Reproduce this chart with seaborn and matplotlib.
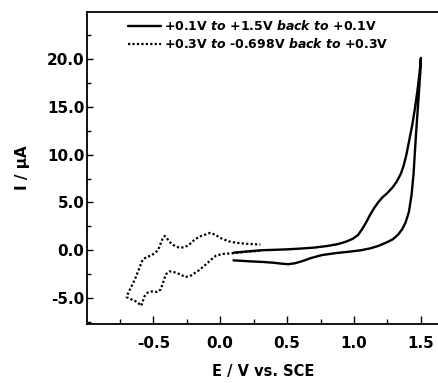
import numpy as np
import pandas as pd
import matplotlib
matplotlib.use("Agg")
import matplotlib.pyplot as plt
from matplotlib.ticker import MultipleLocator, FormatStrFormatter
import seaborn as sns

# scan 1: +0.1 V -> +1.5 V -> +0.1 V (forward then reverse)
e_wide = [0.10, 0.20, 0.30, 0.40, 0.50, 0.60, 0.70, 0.80, 0.88, 0.94, 0.99, 1.03, 1.06,
          1.09, 1.12, 1.15, 1.18, 1.21, 1.25, 1.29, 1.32, 1.35, 1.37, 1.39, 1.41, 1.434,
          1.455, 1.475, 1.49, 1.50,
          1.495, 1.485, 1.475, 1.465, 1.455, 1.445, 1.43, 1.41, 1.385, 1.36, 1.33, 1.29,
          1.24, 1.18, 1.12, 1.05, 0.96, 0.86, 0.76, 0.68, 0.62, 0.56, 0.51, 0.46, 0.40,
          0.32, 0.22, 0.10]
i_wide = [-0.25, -0.12, 0.00, 0.05, 0.10, 0.18, 0.28, 0.45, 0.65, 0.90, 1.20, 1.60, 2.20,
          2.90, 3.70, 4.40, 5.00, 5.50, 6.00, 6.60, 7.20, 8.00, 8.80, 9.90, 11.3, 13.0,
          14.8, 16.8, 18.6, 20.1,
          18.5, 16.5, 14.5, 12.5, 10.3, 8.00, 5.80, 4.00, 2.90, 2.20, 1.65, 1.15,
          0.80, 0.45, 0.20, 0.00, -0.15, -0.30, -0.50, -0.80, -1.10, -1.35, -1.45, -1.40,
          -1.30, -1.22, -1.15, -1.05]

# scan 2: +0.3 V -> -0.698 V -> +0.3 V
e_neg = [0.30, 0.20, 0.10, 0.02, -0.03, -0.07, -0.10, -0.16, -0.22, -0.26, -0.30, -0.35,
         -0.38, -0.405, -0.425, -0.445, -0.47, -0.51, -0.54, -0.565, -0.59, -0.62, -0.66,
         -0.698,
         -0.686, -0.66, -0.636, -0.605, -0.58, -0.55, -0.515, -0.49, -0.465, -0.445, -0.43,
         -0.415, -0.40, -0.38, -0.35, -0.31, -0.27, -0.235, -0.20, -0.16, -0.12, -0.075,
         -0.04, 0.00, 0.06, 0.12, 0.20, 0.30]
i_neg = [-0.05, -0.15, -0.30, -0.38, -0.55, -1.00, -1.40, -2.10, -2.65, -2.80, -2.50, -2.25,
         -2.20, -2.50, -3.30, -4.10, -4.35, -4.30, -4.40, -4.80, -5.80, -5.40, -5.15,
         -4.90,
         -4.40, -3.70, -3.00, -1.90, -1.00, -0.70, -0.55, -0.30, 0.00, 0.70, 1.20,
         1.50, 1.30, 0.90, 0.55, 0.30, 0.30, 0.55, 1.00, 1.40, 1.60, 1.82,
         1.65, 1.30, 0.95, 0.78, 0.68, 0.60]

label_wide = r"+0.1V $\mathit{to}$ +1.5V $\mathit{back\ to}$ +0.1V"
label_neg = r"+0.3V $\mathit{to}$ -0.698V $\mathit{back\ to}$ +0.3V"

sns.set_theme(style="ticks")
plt.rcParams['font.family'] = ['DejaVu Sans']
plt.rcParams['font.weight'] = 'bold'
plt.rcParams['mathtext.fontset'] = 'custom'
plt.rcParams['mathtext.rm'] = 'DejaVu Sans:bold'
plt.rcParams['mathtext.it'] = 'DejaVu Sans:bold:italic'
# pure black text, like the original figure
for key in ['text.color', 'axes.labelcolor', 'xtick.color', 'ytick.color',
            'xtick.labelcolor', 'ytick.labelcolor']:
    plt.rcParams[key] = 'black'

df_wide = pd.DataFrame({'E': e_wide, 'I': i_wide})
df_neg = pd.DataFrame({'E': e_neg, 'I': i_neg})

fig = plt.figure(figsize=(4.39, 3.83), dpi=100)
ax = fig.add_axes([87 / 439, 1 - 324 / 383, 1 - 87 / 439, (324 - 12) / 383])

sns.lineplot(data=df_wide, x='E', y='I', sort=False, estimator=None, ax=ax,
             color='black', linewidth=1.7, label=label_wide)
sns.lineplot(data=df_neg, x='E', y='I', sort=False, estimator=None, ax=ax,
             color='black', linewidth=1.6, linestyle=(0, (1, 1)), label=label_neg)

ax.set_xlim(-0.995, 1.635)
ax.set_ylim(-7.7, 24.9)

ax.xaxis.set_major_locator(MultipleLocator(0.5))
ax.xaxis.set_minor_locator(MultipleLocator(0.25))
ax.yaxis.set_major_locator(MultipleLocator(5))
ax.yaxis.set_minor_locator(MultipleLocator(2.5))
ax.xaxis.set_major_formatter(FormatStrFormatter('%.1f'))
ax.yaxis.set_major_formatter(FormatStrFormatter('%.1f'))

ax.tick_params(axis='both', which='both', direction='in', color='black', width=1.0)
ax.tick_params(axis='x', which='major', length=6, pad=9, labelsize=11)
ax.tick_params(axis='x', which='minor', length=3.5)
ax.tick_params(axis='y', which='major', length=4, pad=2, labelsize=11)
ax.tick_params(axis='y', which='minor', length=3)
for lab in ax.get_xticklabels() + ax.get_yticklabels():
    lab.set_fontweight('bold')

for side in ['left', 'bottom', 'top']:
    ax.spines[side].set_linewidth(1.3)
    ax.spines[side].set_color('black')
ax.spines['right'].set_visible(False)

ax.set_xlabel('E / V vs. SCE', fontsize=10.5, fontweight='bold', labelpad=9)
ax.set_ylabel('I / \u03bcA', fontsize=11, fontweight='bold', labelpad=12)

ax.legend(loc='upper left', bbox_to_anchor=(0.11, 0.985), frameon=False,
          fontsize=9, handlelength=2.6, handletextpad=0.3, labelspacing=0.3,
          borderpad=0.2, borderaxespad=0)

fig.savefig('out.png', dpi=100)
